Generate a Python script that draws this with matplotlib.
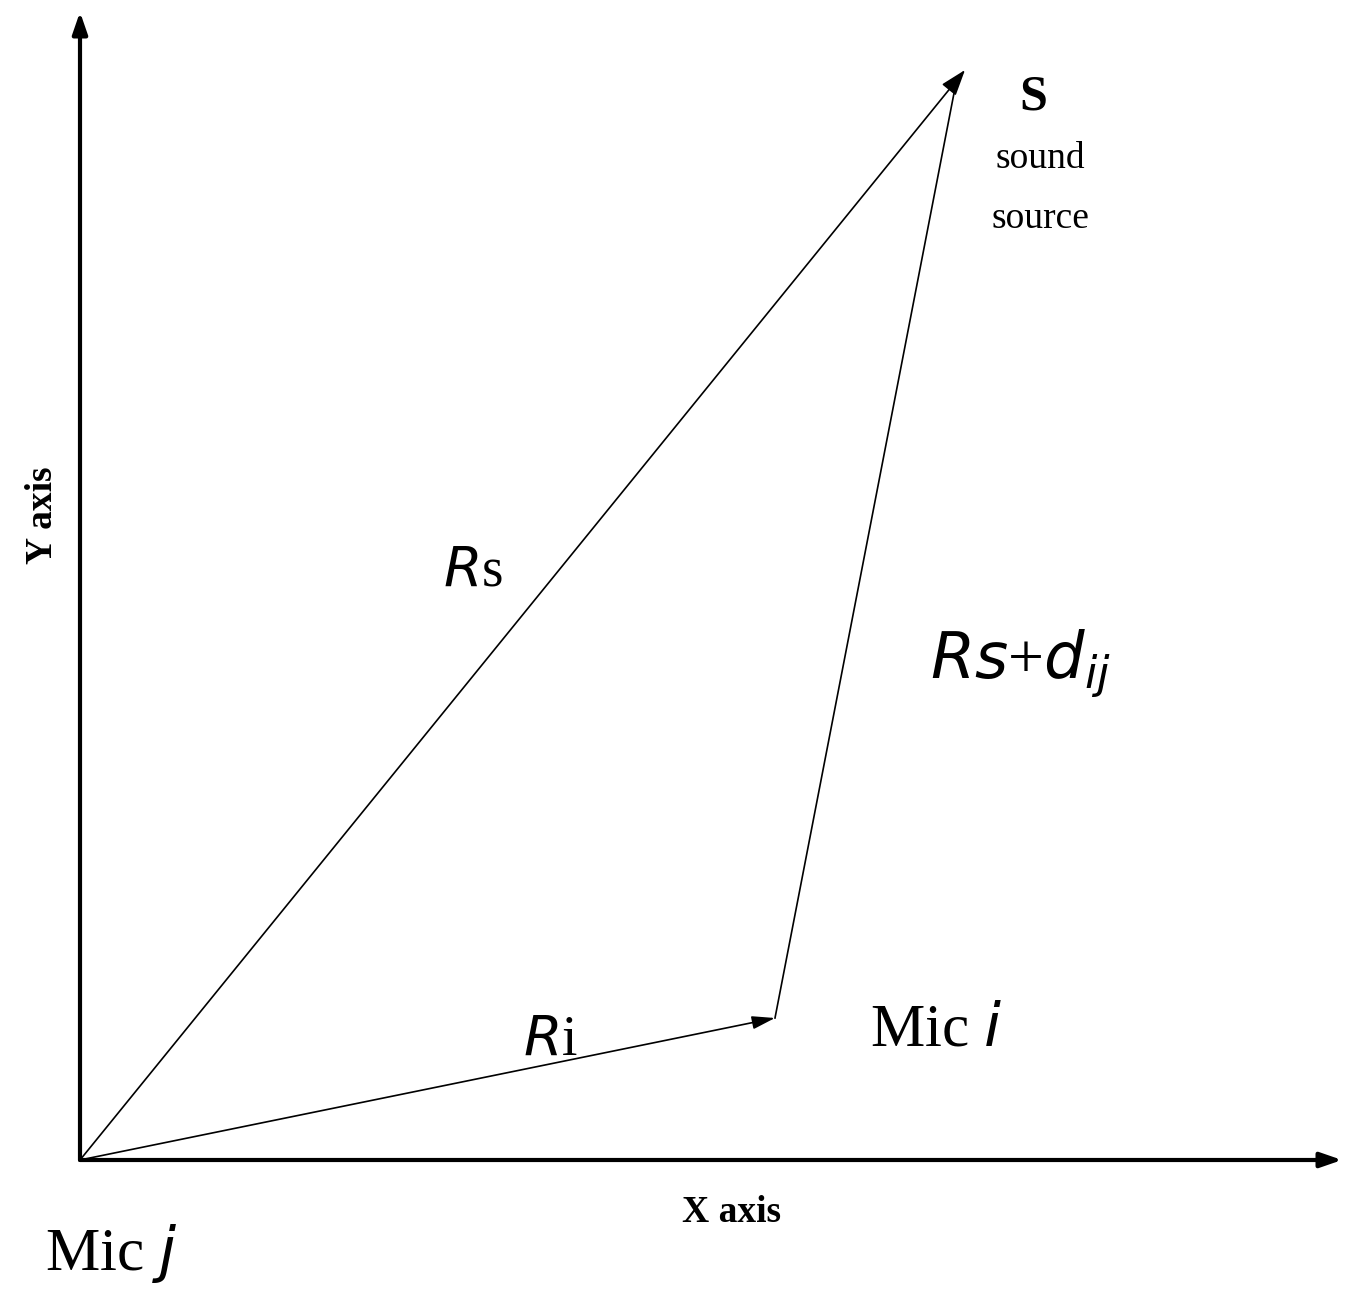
import matplotlib
matplotlib.use("Agg")
import matplotlib.pyplot as plt

# node positions in picture pixels (x right, y down)
node_names = ["Mic j", "Mic i", "S"]
node_x = [80, 775, 965]
node_y = [1160, 1018, 70]

plt.rcParams['font.family'] = ['Liberation Serif', 'DejaVu Serif']
fig = plt.figure(figsize=(13.57, 12.95), dpi=100)
ax = fig.add_axes([0, 0, 1, 1])
ax.set_xlim(0, 1357)
ax.set_ylim(1295, 0)
ax.axis('off')

def arrow(x0, y0, x1, y1, lw=1.2, hw=0.5, hl=1.2):
    ax.annotate('', xy=(x1, y1), xytext=(x0, y0),
                arrowprops=dict(arrowstyle=f'-|>,head_width={hw},head_length={hl}',
                                color='black', lw=lw, shrinkA=0, shrinkB=0))

# axes
arrow(80, 1160, 80, 12, lw=3, hw=0.45, hl=1.3)
arrow(80, 1160, 1342, 1160, lw=3, hw=0.45, hl=1.3)

# vectors
jx, ix, sx = node_x
jy, iy, sy = node_y
arrow(jx, jy, sx, sy, hw=0.55, hl=1.6)
arrow(jx, jy, ix, iy, hw=0.4, hl=1.4)
ax.plot([ix, 955], [iy, 88], color='black', lw=1.2)

ax.text(45, 1270, 'Mic $j$', fontsize=44, ha='left', va='baseline')
ax.text(870, 1045, 'Mic $i$', fontsize=44, ha='left', va='baseline')
ax.text(443, 585, '$R$s', fontsize=40, ha='left', va='baseline')
ax.text(523, 1055, '$R$i', fontsize=40, ha='left', va='baseline')
ax.text(930, 678, '$Rs$+$d_{ij}$', fontsize=46, ha='left', va='baseline')
ax.text(1033, 110, 'S', fontsize=36, fontweight='bold', ha='center', va='baseline')
ax.text(1040, 168, 'sound', fontsize=27, ha='center', va='baseline')
ax.text(1040, 228, 'source', fontsize=27, ha='center', va='baseline')
ax.text(732, 1212, 'X axis', fontsize=27, fontweight='bold', ha='center', va='center')
ax.text(42, 515, 'Y axis', fontsize=27, fontweight='bold', ha='center', va='center', rotation=90)

fig.savefig('out.png', dpi=100, facecolor='white')
